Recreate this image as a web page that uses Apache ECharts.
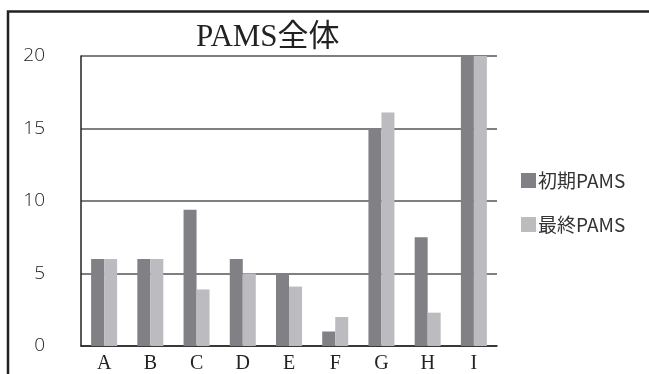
<!DOCTYPE html>
<html>
<head>
<meta charset="utf-8">
<script src="https://cdn.jsdelivr.net/npm/echarts@6/dist/echarts.min.js"></script>
<style>
  html, body { margin: 0; padding: 0; background: #fff; }
  #chart { width: 649px; height: 374px; }
</style>
</head>
<body>
<div id="chart"></div>
<script>
// Categories and the two PAMS series
const categories = ['A', 'B', 'C', 'D', 'E', 'F', 'G', 'H', 'I'];
const initialPams = [6, 6, 9.4, 6, 5, 1, 15, 7.5, 20];
const finalPams = [6, 6, 3.9, 5, 4.1, 2, 16.1, 2.3, 20];
const yTicks = [0, 5, 10, 15, 20];

const chart = echarts.init(document.getElementById('chart'), null, { renderer: 'canvas' });

chart.setOption({
  animation: false,
  backgroundColor: '#ffffff',
  title: {
    text: 'PAMS全体',
    left: 191,
    top: 17,
    textStyle: {
      fontFamily: '"Liberation Serif", "Noto Sans CJK JP", serif',
      fontWeight: 'normal',
      fontSize: 31,
      color: '#222'
    }
  },
  graphic: [{
    type: 'rect',
    silent: true,
    shape: { x: 8, y: 11.5, width: 700, height: 420 },
    style: { fill: 'none', stroke: '#222', lineWidth: 2.5 }
  }],
  legend: {
    orient: 'vertical',
    left: 516,
    top: 166,
    itemWidth: 15,
    itemHeight: 15,
    itemGap: 25,
    icon: 'rect',
    textStyle: {
      fontFamily: '"Noto Sans CJK JP", sans-serif',
      fontSize: 19,
      color: '#333',
      padding: [0, 0, 0, -3]
    },
    data: ['初期PAMS', '最終PAMS']
  },
  grid: { left: 81, right: 152, top: 56, bottom: 26 },
  xAxis: {
    type: 'category',
    data: categories,
    axisLine: { lineStyle: { color: '#222', width: 1.5 } },
    axisTick: { show: false },
    axisLabel: {
      margin: 8,
      fontFamily: '"Liberation Serif", serif',
      fontSize: 20,
      color: '#222'
    }
  },
  yAxis: {
    type: 'value',
    min: yTicks[0],
    max: yTicks[yTicks.length - 1],
    interval: yTicks[1] - yTicks[0],
    axisLine: { show: true, lineStyle: { color: '#222', width: 1.5 } },
    axisTick: { show: false },
    axisLabel: {
      margin: 36,
      fontFamily: '"Open Sans", "Liberation Sans", sans-serif',
      fontWeight: 300,
      fontSize: 19,
      color: '#222'
    },
    splitLine: { lineStyle: { color: '#555', width: 1.5 } }
  },
  series: [
    {
      name: '初期PAMS',
      type: 'bar',
      data: initialPams,
      barWidth: 13,
      barGap: '0%',
      itemStyle: { color: '#808085' }
    },
    {
      name: '最終PAMS',
      type: 'bar',
      data: finalPams,
      barWidth: 13,
      itemStyle: { color: '#bcbcc0' }
    }
  ]
});
</script>
</body>
</html>
